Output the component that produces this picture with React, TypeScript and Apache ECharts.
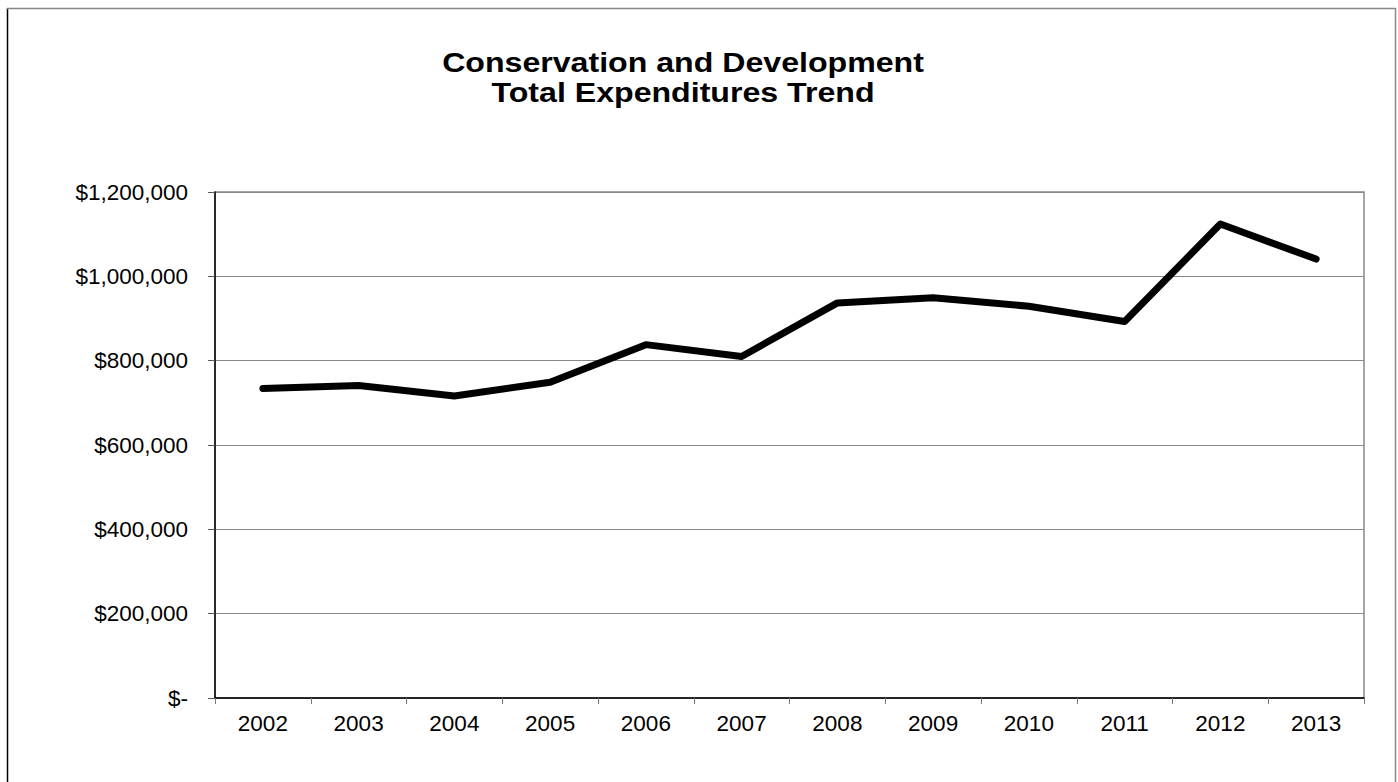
import React, { useEffect, useRef } from "react";
import * as echarts from "echarts";

const titleLines = ["Conservation and Development", "Total Expenditures Trend"];
const years = ["2002", "2003", "2004", "2005", "2006", "2007", "2008", "2009", "2010", "2011", "2012", "2013"];
const expenditures = [734000, 741000, 716000, 749000, 838000, 810000, 937000, 949000, 929000, 893000, 1124000, 1041000];
const yTicks = [0, 200000, 400000, 600000, 800000, 1000000, 1200000];

const fmt = (v: number) => (v === 0 ? "$-" : "$" + v.toLocaleString("en-US"));

export default function App() {
  const ref = useRef<HTMLDivElement>(null);
  useEffect(() => {
    if (!ref.current) return;
    const chart = echarts.init(ref.current, undefined, { renderer: "svg" });
    const font = "Liberation Sans, Arial, sans-serif";
    const titleText = (text: string, y: number) => ({
      type: "text",
      x: 683,
      y,
      scaleX: 1.19,
      style: {
        text,
        fontFamily: font,
        fontWeight: "bold",
        fontSize: 27,
        fill: "#000",
        textAlign: "center",
        textVerticalAlign: "middle",
      },
    });
    chart.setOption({
      animation: false,
      backgroundColor: "#fff",
      graphic: [
        { type: "line", shape: { x1: 7.5, y1: 8, x2: 7.5, y2: 782 }, style: { stroke: "#000", lineWidth: 1.5 } },
        { type: "line", shape: { x1: 7, y1: 8.5, x2: 1396, y2: 8.5 }, style: { stroke: "#888", lineWidth: 1.5 } },
        { type: "line", shape: { x1: 1395.5, y1: 8, x2: 1395.5, y2: 782 }, style: { stroke: "#888", lineWidth: 1.5 } },
        titleText(titleLines[0], 62.5),
        titleText(titleLines[1], 92),
      ],
      grid: {
        left: 215,
        top: 192,
        right: 34,
        bottom: 84,
        show: true,
        borderColor: "#888",
        borderWidth: 1.5,
        backgroundColor: "#fff",
      },
      xAxis: {
        type: "category",
        data: years,
        boundaryGap: true,
        axisLine: { lineStyle: { color: "#000", width: 1.5 } },
        axisTick: { show: true, alignWithLabel: false, length: 6, lineStyle: { color: "#777" } },
        axisLabel: { fontFamily: font, fontSize: 22.5, color: "#000", margin: 14 },
        splitLine: { show: false },
      },
      yAxis: {
        type: "value",
        min: yTicks[0],
        max: yTicks[yTicks.length - 1],
        interval: yTicks[1] - yTicks[0],
        axisLine: { show: true, lineStyle: { color: "#000", width: 1.5 } },
        axisTick: { show: true, length: 7, lineStyle: { color: "#555" } },
        axisLabel: { fontFamily: font, fontSize: 22.5, color: "#000", margin: 27, formatter: fmt },
        splitLine: { show: true, lineStyle: { color: "#888", width: 1 } },
      },
      series: [
        {
          type: "line",
          data: expenditures,
          symbol: "none",
          lineStyle: { color: "#000", width: 7, cap: "round", join: "round" },
        },
      ],
    });
    return () => chart.dispose();
  }, []);
  return <div ref={ref} style={{ position: "fixed", left: 0, top: 0, width: 1398, height: 782 }} />;
}
